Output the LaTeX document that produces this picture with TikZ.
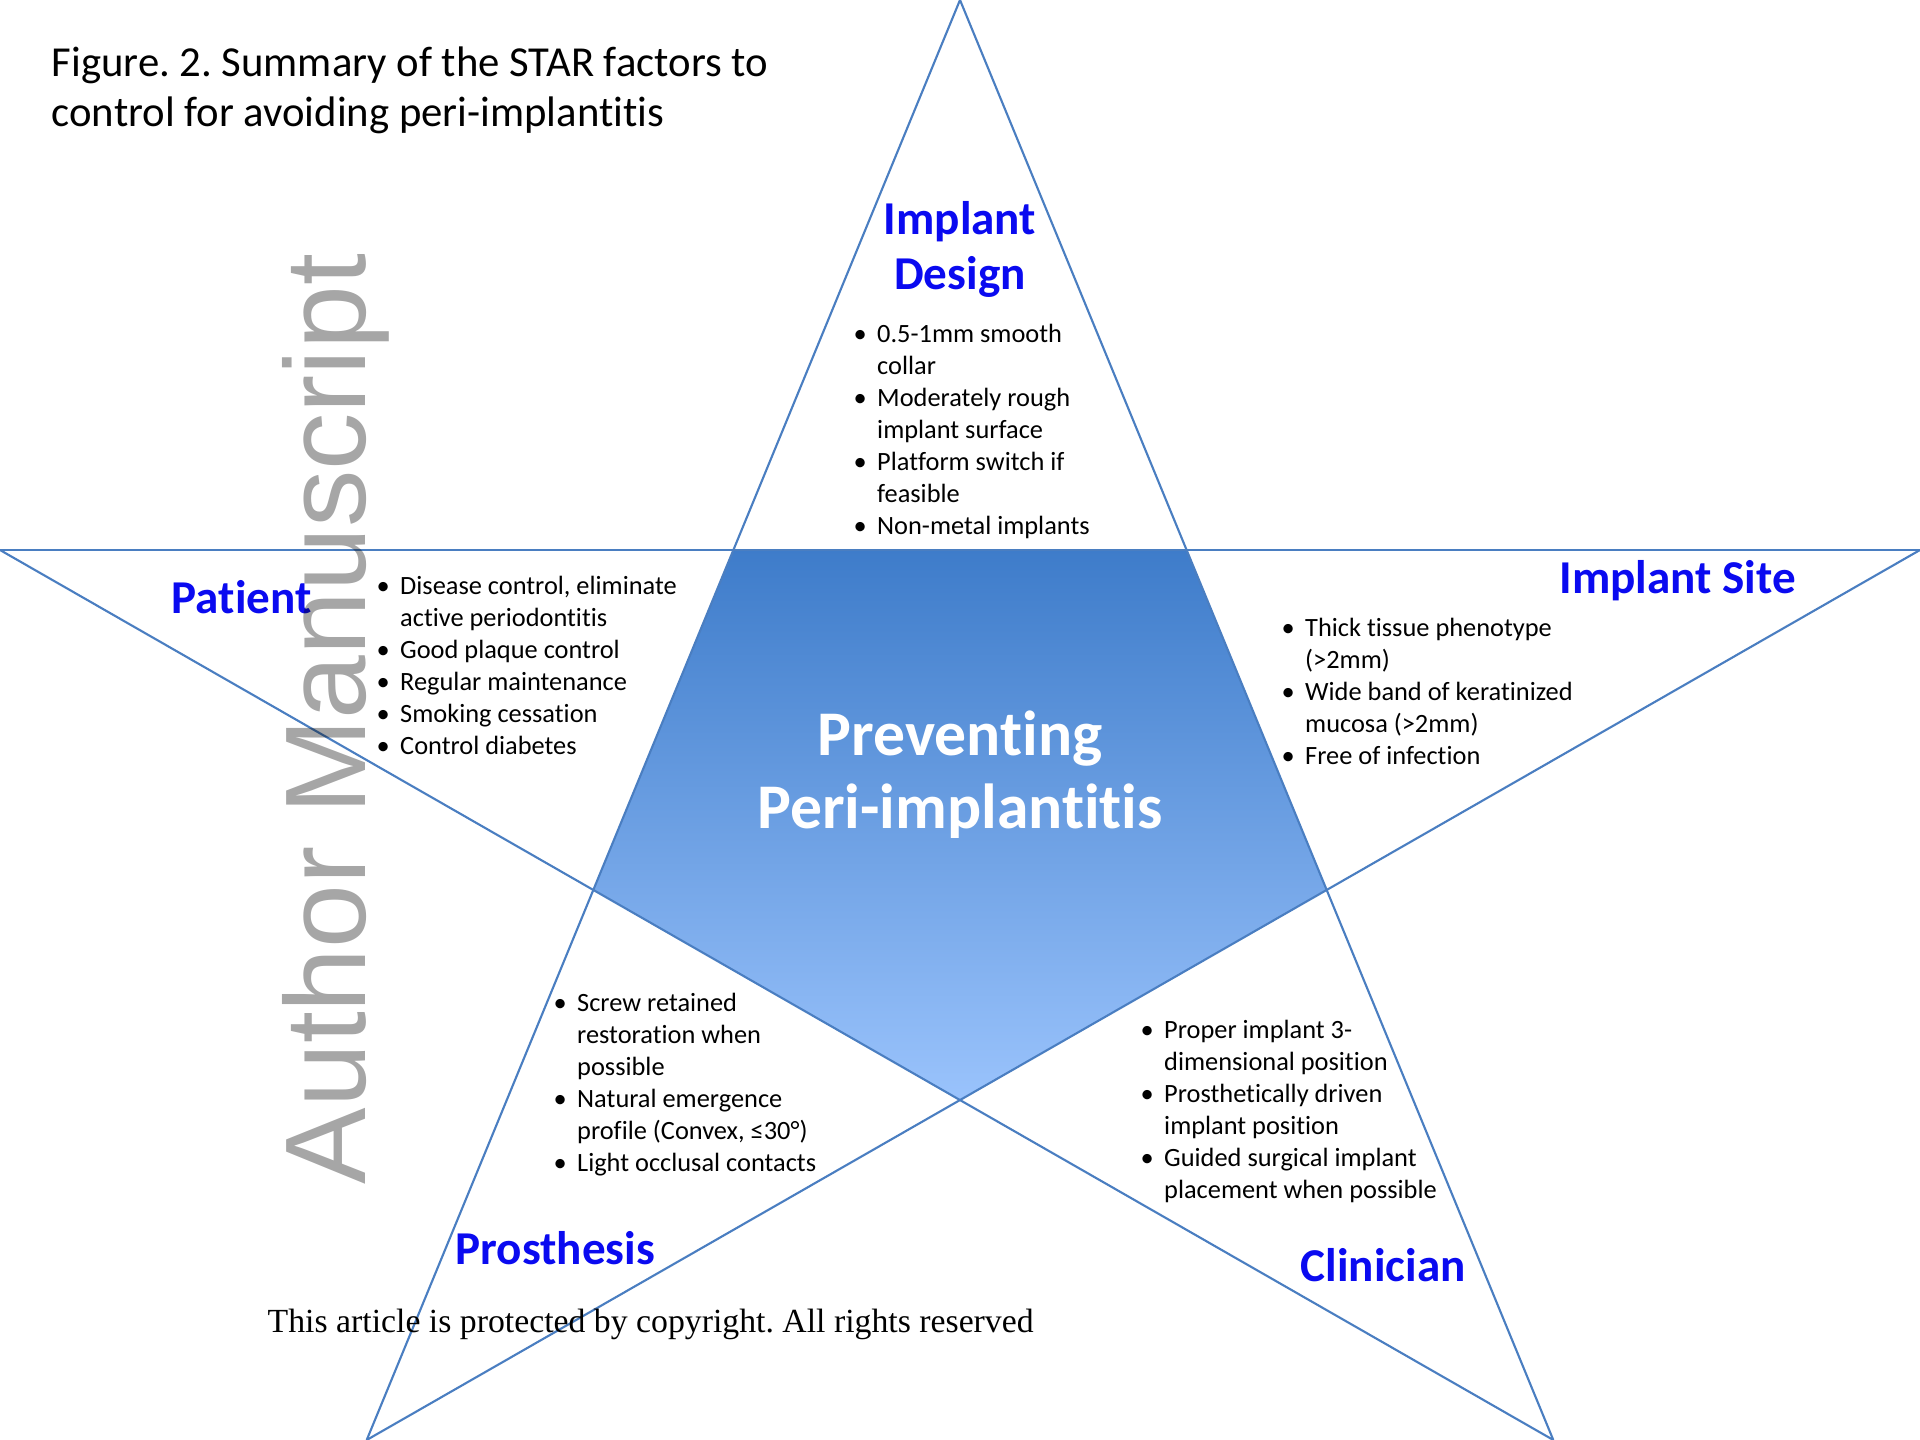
\documentclass[tikz,border=0pt]{standalone}
\usepackage{fontspec}
\setmainfont{Carlito}[Ligatures=NoCommon]
\newfontfamily\copyfont{Liberation Serif}
\newfontfamily\markfont{Liberation Sans}
\usetikzlibrary{positioning}
\frenchspacing
\definecolor{starblue}{RGB}{74,126,193}
\definecolor{headblue}{RGB}{10,10,240}
\definecolor{pentop}{RGB}{62,124,202}
\definecolor{penbot}{RGB}{154,195,252}
\newcommand{\bitem}{\makebox[0.235cm][l]{\textbullet}}
\newcommand{\bcont}{\hspace*{0.235cm}}
\tikzset{
    starline/.style = {draw=starblue, line width=0.6pt},
    myhead/.style = {inner sep=0pt, text=headblue, font=\fontsize{13.4}{15.9}\selectfont\bfseries},
    mylist/.style = {inner sep=0pt, align=left, anchor=base west, font=\fontsize{7.5}{9.1}\selectfont}, % base = last line
    mycenter/.style = {inner sep=0pt, align=center, text=white, font=\fontsize{18.1}{20.8}\selectfont\bfseries},
    mytitle/.style = {inner sep=0pt, align=left, anchor=base west, font=\fontsize{12.15}{14.3}\selectfont},
    mymark/.style = {inner sep=0pt, rotate=90, text=black, text opacity=0.35, font=\markfont\fontsize{32.6}{33}\selectfont}
}
\begin{document}
\frenchspacing
\begin{tikzpicture}[x=0.01cm, y=-0.01cm]
  \fill[white] (0,0) rectangle (1920,1440);
  \useasboundingbox (0,0) rectangle (1920,1440);

  % outer points of the star
  \coordinate (ptop) at (960,0);
  \coordinate (pleft) at (0,550);
  \coordinate (pright) at (1920,550);
  \coordinate (pbl) at (366.7,1440);
  \coordinate (pbr) at (1553.3,1440);
  % inner pentagon
  \coordinate (qtl) at (intersection of ptop--pbl and pleft--pright);
  \coordinate (qtr) at (intersection of ptop--pbr and pleft--pright);
  \coordinate (qr) at (intersection of ptop--pbr and pright--pbl);
  \coordinate (qb) at (intersection of pleft--pbr and pright--pbl);
  \coordinate (ql) at (intersection of ptop--pbl and pleft--pbr);

  \shade[top color=pentop, bottom color=penbot] (qtl) -- (qtr) -- (qr) -- (qb) -- (ql) -- cycle;

  \draw[starline] (ptop) -- (pbl);
  \draw[starline] (ptop) -- (pbr);
  \draw[starline] (pleft) -- (pright);
  \draw[starline] (pleft) -- (pbr);
  \draw[starline] (pright) -- (pbl);

  \node[mytitle] (title) at (51,127) {Figure. 2. Summary of the STAR factors to\\control for avoiding peri-implantitis};

  \node[myhead, anchor=base, align=center] (design) at (960,290) {Implant\\Design};
  \node[myhead, anchor=base west] (patient) at (171,614) {Patient};
  \node[myhead, anchor=base west] (site) at (1559,594) {Implant Site};
  \node[myhead, anchor=base west] (prosth) at (455,1265) {Prosthesis};
  \node[myhead, anchor=base west] (clinic) at (1300,1282) {Clinician};

  \node[mycenter, anchor=base] (prevent) at (960,829) {Preventing\\Peri-implantitis};

  \node[mylist] (ldesign) at (853,535) {\bitem 0.5-1mm smooth\\\bcont collar\\\bitem Moderately rough\\\bcont implant surface\\\bitem Platform switch if\\\bcont feasible\\\bitem Non-metal implants};
  \node[mylist] (lpatient) at (376,755) {\bitem Disease control, eliminate\\\bcont active periodontitis\\\bitem Good plaque control\\\bitem Regular maintenance\\\bitem Smoking cessation\\\bitem Control diabetes};
  \node[mylist] (lsite) at (1281,765) {\bitem Thick tissue phenotype\\\bcont (>2mm)\\\bitem Wide band of keratinized\\\bcont mucosa (>2mm)\\\bitem Free of infection};
  \node[mylist] (lprosth) at (553,1172) {\bitem Screw retained\\\bcont restoration when\\\bcont possible\\\bitem Natural emergence\\\bcont profile (Convex, ≤30°)\\\bitem Light occlusal contacts};
  \node[mylist] (lclinic) at (1140,1199) {\bitem Proper implant 3-\\\bcont dimensional position\\\bitem Prosthetically driven\\\bcont implant position\\\bitem Guided surgical implant\\\bcont placement when possible};

  \node[anchor=base west, inner sep=0pt, font=\copyfont\fontsize{9.6}{11}\selectfont] (copy) at (267,1333) {This article is protected by copyright. All rights reserved};

  \node[mymark, anchor=base] (mark) at (365,719) {Author Manuscript};
\end{tikzpicture}
\end{document}
